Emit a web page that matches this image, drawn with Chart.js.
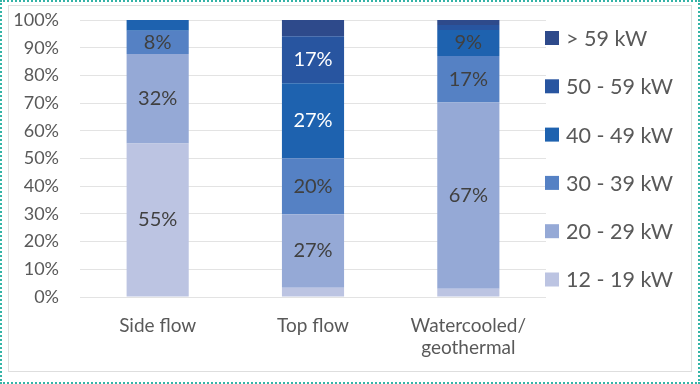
<!DOCTYPE html>
<html>
<head>
<meta charset="utf-8">
<script src="https://cdn.jsdelivr.net/npm/chart.js@4/dist/chart.umd.min.js"></script>
<style>
  html, body { margin: 0; padding: 0; background: #fff; }
  #outer { position: relative; width: 700px; height: 384px; box-sizing: border-box; border: 2px dotted #35b4a7; }
  #inner { position: absolute; left: 6px; top: 3px; width: 684px; height: 367px; box-sizing: border-box; border: 1px solid #dedede; }
  #wrap { position: absolute; left: -2px; top: -2px; width: 700px; height: 384px; }
</style>
</head>
<body>
<div id="outer">
  <div id="inner"></div>
  <div id="wrap"><canvas id="c" width="700" height="384"></canvas></div>
</div>
<script>
const categories = [["Side flow"], ["Top flow"], ["Watercooled/", "geothermal"]];
const seriesNames = ["12 - 19 kW", "20 - 29 kW", "30 - 39 kW", "40 - 49 kW", "50 - 59 kW", "> 59 kW"];
const kw12to19 = [55.4, 3.3, 3.0];
const kw20to29 = [32.3, 26.6, 67.2];
const kw30to39 = [8.4, 20.2, 16.8];
const kw40to49 = [3.9, 27.1, 9.4];
const kw50to59 = [0, 16.9, 1.8];
const kwOver59 = [0, 5.9, 1.8];
const yTicks = [0, 10, 20, 30, 40, 50, 60, 70, 80, 90, 100];

const seriesValues = [kw12to19, kw20to29, kw30to39, kw40to49, kw50to59, kwOver59];
const colors = ["#bcc4e2", "#95a9d6", "#5581c4", "#1e62af", "#2855a0", "#2e4a8b"];
const dark = "#404040", white = "#ffffff";
const labelColors = [
  [dark, dark, dark],
  [dark, dark, dark],
  [dark, dark, dark],
  [dark, white, dark],
  [dark, white, dark],
  [dark, white, dark]
];
const FONT = "Lato, 'Open Sans', sans-serif";
const TEXT = "#595959";

const datasets = seriesNames.map((n, i) => ({
  label: n,
  data: seriesValues[i],
  backgroundColor: colors[i],
  borderWidth: 0,
  barPercentage: 0.4,
  categoryPercentage: 1.0,
  labelColors: labelColors[i]
}));

const dataLabels = {
  id: "dataLabels",
  afterDatasetsDraw(chart) {
    const ctx = chart.ctx;
    ctx.save();
    ctx.font = "20px " + FONT;
    ctx.textAlign = "center";
    ctx.textBaseline = "middle";
    chart.data.datasets.forEach((ds, di) => {
      const meta = chart.getDatasetMeta(di);
      meta.data.forEach((bar, i) => {
        const v = ds.data[i];
        if (v < 7.5) return;
        ctx.fillStyle = ds.labelColors[i];
        ctx.fillText(Math.round(v) + "%", bar.x, (bar.y + bar.base) / 2);
      });
    });
    ctx.restore();
  }
};

const sideLegend = {
  id: "sideLegend",
  afterDraw(chart) {
    const ctx = chart.ctx;
    ctx.save();
    ctx.font = "21.5px " + FONT;
    ctx.textBaseline = "middle";
    ctx.textAlign = "left";
    const n = chart.data.datasets.length;
    for (let k = 0; k < n; k++) {
      const ds = chart.data.datasets[n - 1 - k];
      const y = 38 + k * 48.3;
      ctx.fillStyle = ds.backgroundColor;
      ctx.fillRect(545, y - 7, 14, 14);
      ctx.fillStyle = TEXT;
      ctx.fillText(ds.label, 566, y + 1);
    }
    ctx.restore();
  }
};

new Chart(document.getElementById("c"), {
  type: "bar",
  data: { labels: categories, datasets },
  options: {
    responsive: false,
    animation: false,
    layout: { padding: { left: 0, right: 154, top: 20, bottom: 0 } },
    plugins: { legend: { display: false }, tooltip: { enabled: false } },
    scales: {
      x: {
        stacked: true,
        grid: { display: false, drawTicks: false },
        border: { display: false },
        ticks: { color: TEXT, font: { family: FONT, size: 19 }, padding: 17, maxRotation: 0, autoSkip: false },
        afterFit(s) { s.height = 87; s.paddingLeft = 0; s.paddingRight = 0; }
      },
      y: {
        stacked: true,
        min: 0, max: 100,
        afterBuildTicks(s) { s.ticks = yTicks.map(v => ({ value: v })); },
        grid: { color: "#e3e3e3", lineWidth: 1, drawTicks: false },
        border: { display: false },
        ticks: { color: TEXT, font: { family: FONT, size: 18 }, padding: 21, callback: v => v + "%" },
        afterFit(s) { s.width = 80; s.paddingTop = 0; s.paddingBottom = 0; }
      }
    }
  },
  plugins: [dataLabels, sideLegend]
});
</script>
</body>
</html>
